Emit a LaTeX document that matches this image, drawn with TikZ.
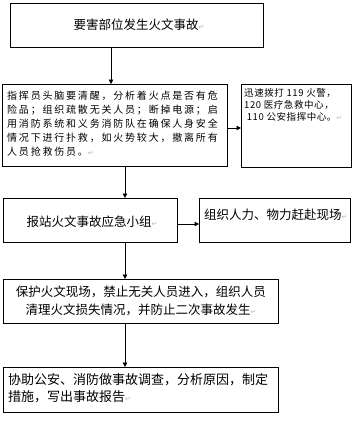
\documentclass[tikz,border=0pt]{standalone}
\usepackage{fontspec}
\setmainfont{Noto Sans CJK SC}
\newfontfamily\dvfont{DejaVu Sans}
\newfontfamily\cjksp[LetterSpace=18]{Noto Sans CJK SC}
\newfontfamily\cjkspb[LetterSpace=6]{Noto Sans CJK SC}
\usetikzlibrary{arrows.meta}
\newcommand\parmk{{\dvfont\color{gray!55}\fontsize{7}{7}\selectfont ↵}}
\begin{document}
\begin{tikzpicture}[x=1pt,y=-1pt,
  box/.style={draw,line width=0.9pt,inner sep=0pt,anchor=north west},
  txt/.style={inner sep=0pt,font=\fontsize{12.5}{18}\selectfont},
  arr/.style={line width=0.8pt,-{Triangle[length=4.5pt,width=4.5pt]}}]
\useasboundingbox (0,0) rectangle (353,421);
% boxes
\node[box,minimum width=253pt,minimum height=44pt] (b1) at (10,3) {};
\node[box,minimum width=225pt,minimum height=82pt] (b2) at (2,84) {};
\node[box,minimum width=110pt,minimum height=83pt] (b3) at (241,84) {};
\node[box,minimum width=174pt,minimum height=44pt] (b4) at (3,198) {};
\node[box,minimum width=151pt,minimum height=44pt] (b5) at (199,198) {};
\node[box,minimum width=275pt,minimum height=44pt] (b6) at (3,279) {};
\node[box,minimum width=275pt,minimum height=45pt] (b7) at (3,367) {};
% texts
\node[txt] (t1) at (139,25) {要害部位发生火文事故\parmk};
\node[txt,font=\fontsize{10}{14}\cjksp,align=left,anchor=west] (t2) at (7,124) {指挥员头脑要清醒，分析着火点是否有危\\险品；组织疏散无关人员；断掉电源；启\\用消防系统和义务消防队在确保人身安全\\情况下进行扑救，如火势较大，撤离所有\\人员抢救伤员。\parmk};
\node[txt,font=\fontsize{9.5}{12}\cjkspb,align=left,anchor=west] (t3) at (244,105) {迅速拨打 119 火警，\\120 医疗急救中心，\\\ 110 公安指挥中心。\parmk};
\node[txt] (t4) at (92,222) {报站火文事故应急小组\parmk};
\node[txt,anchor=west] (t5) at (204,215) {组织人力、物力赶赴现场\parmk};
\node[txt,align=center] (t6) at (141,301) {保护火文现场，禁止无关人员进入，组织人员\\清理火文损失情况，并防止二次事故发生\parmk};
\node[txt,font=\fontsize{13}{17}\selectfont,align=left,anchor=west] (t7) at (8,388.5) {协助公安、消防做事故调查，分析原因，制定\\措施，写出事故报告\parmk};
% connectors
\draw[arr] ([xshift=101pt]b1.south west) -- ([xshift=101pt]b1.south west |- b2.north);
\draw[arr] ([yshift=-44pt]b2.north east) -- ([yshift=-44pt]b2.north east -| b3.west);
\draw[arr] ([xshift=123pt]b2.south west) -- ([xshift=123pt]b2.south west |- b4.north);
\draw[arr] ([yshift=-26pt]b4.north east) -- ([yshift=-26pt]b4.north east -| b5.west);
\draw[arr] ([xshift=122pt]b4.south west) -- ([xshift=122pt]b4.south west |- b6.north);
\draw[arr] ([xshift=122pt]b6.south west) -- ([xshift=122pt]b6.south west |- b7.north);
\end{tikzpicture}
\end{document}
